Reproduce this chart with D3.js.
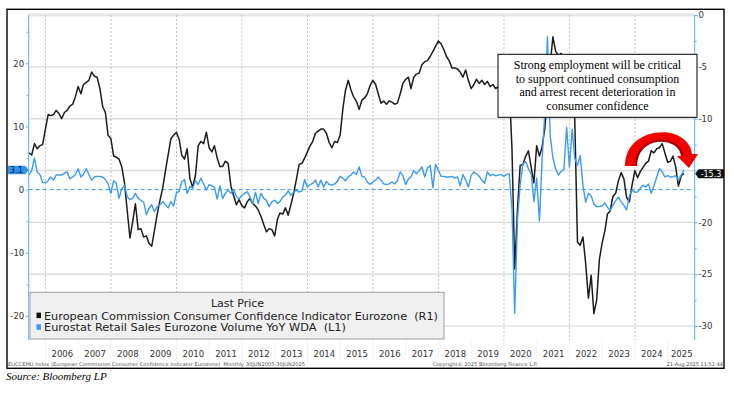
<!DOCTYPE html>
<html><head><meta charset="utf-8">
<script src="https://cdn.jsdelivr.net/npm/d3@7"></script>
<style>
html,body{margin:0;padding:0;background:#fff;}
svg{display:block;}
</style></head>
<body>
<svg id="chart" width="734" height="396"></svg>
<script>
// ---------------- DATA ----------------
// Monthly observations, end of month, June 2005 .. June 2025
const firstMonth = {year: 2005, month: 6};
// European Commission Consumer Confidence Indicator Eurozone (R1, right axis)
const confidence = [
 -13.3,-13.5,-12.4,-12.9,-12.6,-12.5,-11.0,-9.6,-9.7,-9.6,
 -9.2,-9.5,-10.0,-9.4,-9.2,-8.8,-8.6,-7.9,-6.9,-7.6,
 -6.7,-6.5,-6.3,-5.5,-5.9,-6.0,-7.1,-8.8,-9.4,-11.6,
 -11.9,-13.6,-13.7,-13.9,-14.6,-16.2,-18.8,-21.5,-19.9,-18.2,
 -20.7,-20.6,-21.4,-21.3,-22.0,-22.3,-20.8,-19.2,-17.9,-16.7,
 -15.0,-13.5,-11.9,-11.6,-11.3,-12.0,-13.5,-13.9,-12.9,-15.8,
 -16.6,-15.5,-12.6,-12.2,-12.4,-11.3,-12.8,-13.2,-12.6,-13.8,
 -14.6,-14.6,-14.1,-14.3,-16.5,-17.4,-18.3,-17.8,-18.4,-18.6,
 -18.0,-17.7,-18.2,-18.4,-18.8,-19.4,-20.2,-20.9,-20.6,-20.7,
 -21.3,-19.7,-19.1,-19.2,-18.6,-19.3,-18.3,-17.2,-15.8,-14.4,
 -14.3,-13.8,-13.2,-12.6,-12.2,-11.4,-11.2,-11.0,-11.0,-11.4,
 -12.3,-12.8,-12.2,-12.3,-11.6,-9.0,-7.3,-6.3,-7.2,-7.9,
 -8.3,-9.1,-8.2,-8.0,-7.6,-6.8,-6.3,-6.7,-7.6,-8.5,
 -8.3,-8.6,-8.3,-8.4,-8.6,-8.5,-7.6,-6.6,-6.2,-6.0,
 -7.1,-6.0,-5.7,-5.6,-4.8,-4.5,-4.4,-4.0,-3.5,-3.0,
 -2.5,-2.8,-3.3,-4.0,-4.4,-5.1,-5.1,-5.2,-5.5,-6.0,
 -5.3,-6.3,-7.1,-6.7,-6.2,-6.6,-6.3,-6.7,-6.4,-6.9,
 -6.7,-7.1,-6.9,-7.6,-7.3,-8.0,-6.8,-13.0,-24.5,-18.7,
 -14.5,-14.4,-13.6,-13.1,-14.7,-16.2,-12.6,-13.6,-12.8,-11.0,
 -7.8,-4.8,-2.1,-3.5,-3.9,-3.7,-4.6,-6.5,-8.0,-8.5,
 -9.8,-21.9,-22.2,-21.4,-23.9,-27.3,-25.1,-28.8,-27.5,-23.6,
 -22.0,-20.8,-19.2,-18.9,-17.5,-17.2,-16.0,-15.2,-15.8,-17.6,
 -18.0,-16.4,-15.0,-15.7,-15.1,-14.7,-14.3,-14.1,-13.1,-13.3,
 -12.9,-12.8,-12.4,-13.3,-14.2,-14.1,-13.6,-14.7,-16.5,-15.5,-15.3
];
// Eurostat Retail Sales Eurozone Volume YoY WDA (L1, left axis)
const retailSales = [
 2.3,3.0,5.0,2.8,2.4,1.1,1.1,1.4,2.0,1.5,
 2.3,2.3,2.3,2.6,2.8,1.7,2.0,2.4,3.3,2.0,
 2.4,3.3,2.4,1.5,2.0,2.1,2.1,2.0,1.6,0.9,
 -0.6,1.4,1.0,-1.4,0.1,0.7,-1.1,-1.6,-1.4,-0.6,
 -1.4,-1.7,-2.0,-4.0,-3.0,-2.4,-3.5,-2.7,-2.4,-1.9,
 -2.4,-2.9,-1.9,-2.6,-0.5,-0.3,1.2,1.6,-0.6,0.5,
 0.2,1.4,0.8,1.8,0.9,-0.1,0.8,0.6,0.4,-1.5,
 0.6,-1.4,-0.6,-0.1,-0.6,0.0,-1.1,-1.5,-0.9,-0.6,
 -0.3,-1.2,-2.2,-0.4,-2.2,-0.6,-1.4,-1.7,-2.7,-1.9,
 -1.7,-2.2,-1.9,-1.2,-0.9,-0.2,-0.9,-0.4,-0.1,-0.4,
 -0.2,1.6,0.4,0.8,1.0,1.5,0.4,1.5,0.4,1.3,
 0.8,0.7,0.9,1.3,2.1,1.8,1.4,2.0,2.3,2.8,
 2.4,3.6,2.1,2.0,1.2,0.8,1.2,1.5,2.0,1.5,
 0.9,0.8,0.9,1.2,0.9,1.4,2.8,2.2,0.8,1.7,
 2.0,3.0,2.5,3.0,3.6,2.0,3.4,3.8,0.3,4.0,
 3.0,2.1,2.1,2.0,2.0,2.1,1.8,2.0,0.6,2.4,
 1.5,0.4,2.2,2.8,2.5,2.1,1.5,1.0,2.8,2.2,
 2.4,2.2,2.3,2.4,2.1,2.4,2.5,-3.3,-19.6,-4.8,
 0.8,4.1,4.4,3.3,2.5,-1.9,1.8,-5.0,4.2,12.0,
 24.2,8.5,5.0,3.3,2.3,2.9,3.2,9.9,3.6,9.6,
 5.0,3.8,5.4,0.7,-2.0,-0.6,-1.0,-2.3,-2.7,-2.7,
 -2.6,-2.1,-2.8,-3.3,-2.5,-1.8,-1.2,-1.9,-2.5,-3.2,
 -1.0,-0.1,-0.4,-0.4,0.2,0.7,0.4,0.9,-0.6,0.6,
 2.0,3.3,2.8,2.0,2.2,2.0,2.0,2.2,1.5,2.3,3.1
];
const yearLabels = ["2006","2007","2008","2009","2010","2011","2012","2013","2014","2015",
  "2016","2017","2018","2019","2020","2021","2022","2023","2024","2025"];
const gridYears = [2006,2008,2010,2012,2014,2016,2018,2020,2022,2024];
const leftTicks = [-20,-10,0,10,20];
const leftMinorTicks = [-15,-5,5,15,25];
const rightTicks = [0,-5,-10,-15,-20,-25,-30];
const rightMinorTicks = [-2.5,-7.5,-12.5,-17.5,-22.5,-27.5];
const legendTitle = "Last Price";
const seriesNames = ["European Commission Consumer Confidence Indicator Eurozone  (R1)",
                     "Eurostat Retail Sales Eurozone Volume YoY WDA  (L1)"];
const lastLabels = {retail: "3.1", confidence: "-15.3"};
const annotationLines = ["Strong employment will be critical","to support continued consumption",
  "and arrest recent deterioration in","consumer confidence"];
const footer = {
  left: "EUCCEMU Index (European Commission Consumer Confidence Indicator Eurozone)  Monthly 30JUN2005-30JUN2025",
  mid: "Copyright\u00A9 2025 Bloomberg Finance L.P.",
  right: "21-Aug-2025 11:51:44"
};
const sourceText = "Source: Bloomberg LP";

// ---------------- DRAW ----------------
const svg = d3.select("#chart");
const plot = {left: 28.7, right: 694.7, top: 15, bottom: 340};
const dates = confidence.map((_, i) => new Date(firstMonth.year, firstMonth.month - 1 + i + 1, 0));

const x = d3.scaleTime()
  .domain([new Date(2005,5,30), new Date(2025,5,30)])
  .range([28.9, 683.9]);
const yL = d3.scaleLinear().domain([-23.82, 27.65]).range([plot.bottom, plot.top]);
const yR = d3.scaleLinear().domain([-31.34, 0]).range([plot.bottom, plot.top]);

const BLUE = "#3a9bf5";
const AXISBLUE = "#5aaef8";
const ff = "'DejaVu Sans', Verdana, sans-serif";

// outer frame
svg.append("rect").attr("x",7).attr("y",9.3).attr("width",717).attr("height",359)
  .attr("fill","#fff").attr("stroke","#000").attr("stroke-width",1.4);

// horizontal gridlines (right axis ticks)
svg.append("g").selectAll("line").data(rightTicks).join("line")
  .attr("x1",plot.left).attr("x2",plot.right)
  .attr("y1",d=>yR(d)).attr("y2",d=>yR(d))
  .attr("stroke", d=> d===0 ? "#e6e6e6" : "#dcdcdc")
  .attr("stroke-width", d=> d===0 ? 3 : 1.4);

// vertical dotted gridlines
svg.append("g").selectAll("line").data(gridYears).join("line")
  .attr("x1",d=>x(new Date(d,0,1))).attr("x2",d=>x(new Date(d,0,1)))
  .attr("y1",plot.top).attr("y2",plot.bottom)
  .attr("stroke","#b4b4b4").attr("stroke-width",0.8).attr("stroke-dasharray","2,2");

// faint year separators in label band
svg.append("g").selectAll("line").data(d3.range(2006,2026)).join("line")
  .attr("x1",d=>x(new Date(d,0,1))).attr("x2",d=>x(new Date(d,0,1)))
  .attr("y1",plot.bottom).attr("y2",362)
  .attr("stroke","#f0f0f0").attr("stroke-width",0.8);

// zero dashed line (left axis)
svg.append("line").attr("x1",plot.left).attr("x2",plot.right)
  .attr("y1",yL(0)).attr("y2",yL(0))
  .attr("stroke",BLUE).attr("stroke-width",1).attr("stroke-dasharray","4,3");

// clip
svg.append("clipPath").attr("id","clip").append("rect")
  .attr("x",plot.left).attr("y",plot.top-2).attr("width",plot.right-plot.left).attr("height",plot.bottom-plot.top+2);

const lineR = d3.line().x((d,i)=>x(dates[i])).y(d=>yR(d));
const lineL = d3.line().x((d,i)=>x(dates[i])).y(d=>yL(d));

svg.append("path").datum(confidence).attr("d",lineR).attr("clip-path","url(#clip)")
  .attr("fill","none").attr("stroke","#1c1c1c").attr("stroke-width",1.5).attr("stroke-linejoin","round");
svg.append("path").datum(retailSales).attr("d",lineL).attr("clip-path","url(#clip)")
  .attr("fill","none").attr("stroke",BLUE).attr("stroke-width",1.4).attr("stroke-linejoin","round");

// axes
function styleAxis(g){
  g.select(".domain").attr("stroke",AXISBLUE).attr("stroke-width",1);
  g.selectAll(".tick line").attr("stroke",AXISBLUE);
  g.selectAll(".tick text").attr("fill","#333").attr("font-family",ff).attr("font-size","8.5px");
}
const gL = svg.append("g").attr("transform",`translate(${plot.left},0)`)
  .call(d3.axisLeft(yL).tickValues(leftTicks).tickSize(3).tickSizeOuter(0).tickPadding(1.5).tickFormat(d3.format("d")));
styleAxis(gL);
gL.select(".domain").attr("d",`M0,${plot.top}V${plot.bottom}`);
const gLm = svg.append("g").attr("transform",`translate(${plot.left},0)`)
  .call(d3.axisLeft(yL).tickValues(leftMinorTicks).tickSize(2).tickSizeOuter(0).tickFormat(""));
styleAxis(gLm); gLm.select(".domain").remove();

const lastConf = confidence[confidence.length-1];
const gR = svg.append("g").attr("transform",`translate(${plot.right},0)`)
  .call(d3.axisRight(yR).tickValues(rightTicks).tickSize(3).tickSizeOuter(0).tickPadding(0.8)
    .tickFormat(d => Math.abs(d - lastConf) < 2 ? "" : d3.format("d")(d)));  // label hidden under the last-value tag
styleAxis(gR);
gR.select(".domain").attr("d",`M0,${plot.top}V${plot.bottom}`);
const gRm = svg.append("g").attr("transform",`translate(${plot.right},0)`)
  .call(d3.axisRight(yR).tickValues(rightMinorTicks).tickSize(2).tickSizeOuter(0).tickFormat(""));
styleAxis(gRm); gRm.select(".domain").remove();

svg.selectAll(".tick text").text(function(){ return d3.select(this).text().replace("\u2212","-"); });

// year labels (centered on each year)
const yearPos = yearLabels.map((lab)=>{
  const y = +lab;
  const a = x(new Date(y,0,1));
  const b = Math.min(x(new Date(y+1,0,1)), plot.right);
  return x.invert((a+b)/2);
});
const gX = svg.append("g").attr("transform",`translate(0,${plot.bottom})`)
  .call(d3.axisBottom(x).tickValues(yearPos).tickSize(0).tickPadding(11).tickFormat((d,i)=>yearLabels[i]));
gX.select(".domain").remove();
gX.selectAll(".tick text").attr("fill","#333").attr("font-family",ff).attr("font-size","8.5px");

// legend
const lg = svg.append("g");
lg.append("rect").attr("x",30).attr("y",292.3).attr("width",414).attr("height",46.7)
  .attr("fill","#f0f0f0").attr("stroke","#a0a0a0").attr("stroke-width",1);
lg.append("text").attr("x",237.5).attr("y",307.3).attr("text-anchor","middle")
  .attr("font-family",ff).attr("font-size","11px").attr("fill","#222")
  .text(legendTitle);
const legColors = ["#111", BLUE];
const legWidths = [394, 302];
seriesNames.forEach((nm,i)=>{
  const by = 319.6 + i*11.7;
  lg.append("rect").attr("x",36.5).attr("y",by-7).attr("width",4.5).attr("height",5.5).attr("fill",legColors[i]);
  lg.append("text").attr("x",44).attr("y",by)
    .attr("font-family",ff).attr("font-size","10px").attr("fill","#222")
    .style("white-space","pre").attr("textLength",legWidths[i]).attr("lengthAdjust","spacingAndGlyphs")
    .text(nm);
});

// last value tags
const ly = yL(retailSales[retailSales.length-1]);
svg.append("path").attr("d",`M8,${ly-4.3}H25.3L28.7,${ly}L25.3,${ly+4.3}H8Z`).attr("fill","#2f93f0");
svg.append("text").attr("x",16.5).attr("y",ly+3).attr("text-anchor","middle")
  .attr("font-family",ff).attr("font-size","8.5px").attr("fill","#0b1a33")
  .text(lastLabels.retail);
const ry = yR(lastConf);
svg.append("path").attr("d",`M695.2,${ry}L698.5,${ry-4.5}H724V${ry+4.5}H698.5Z`).attr("fill","#111");
svg.append("text").attr("x",711).attr("y",ry+3).attr("text-anchor","middle")
  .attr("font-family",ff).attr("font-size","8px").attr("fill","#fff")
  .text(lastLabels.confidence);

// annotation box
svg.append("rect").attr("x",498).attr("y",54.3).attr("width",199).attr("height",63)
  .attr("fill","#fff").attr("stroke","#000").attr("stroke-width",1);
svg.append("g").selectAll("text").data(annotationLines).join("text")
  .attr("x",597.5).attr("y",(d,i)=>68.8+i*13.8).attr("text-anchor","middle")
  .attr("font-family","'Liberation Serif','Times New Roman',serif").attr("font-size","12px").attr("fill","#000")
  .text(d=>d);

// red curved arrow
svg.append("path")
  .attr("d","M625,166 C625,125 688,122 692,154 L698,154 L689,168 L677,156 L682,156 C680,134 636,134 636,166 Z")
  .attr("fill","#f20000");
svg.append("path")
  .attr("d","M682,156 C680,134 636,134 636,166")
  .attr("fill","none").attr("stroke","#a30000").attr("stroke-width",2.2);

// footer
svg.append("text").attr("x",8).attr("y",365.5).attr("font-family",ff).attr("font-size","5px").attr("fill","#555")
  .style("white-space","pre").attr("textLength",297).attr("lengthAdjust","spacingAndGlyphs").text(footer.left);
svg.append("text").attr("x",432.7).attr("y",365.5).attr("font-family",ff).attr("font-size","5px").attr("fill","#555")
  .attr("textLength",105).attr("lengthAdjust","spacingAndGlyphs").text(footer.mid);
svg.append("text").attr("x",723).attr("y",365.5).attr("text-anchor","end").attr("font-family",ff).attr("font-size","5px").attr("fill","#555")
  .text(footer.right);

svg.append("text").attr("x",6).attr("y",380).attr("font-family","'Liberation Serif','Times New Roman',serif")
  .attr("font-style","italic").attr("font-size","11px").attr("fill","#000").text(sourceText);
</script>
</body></html>
